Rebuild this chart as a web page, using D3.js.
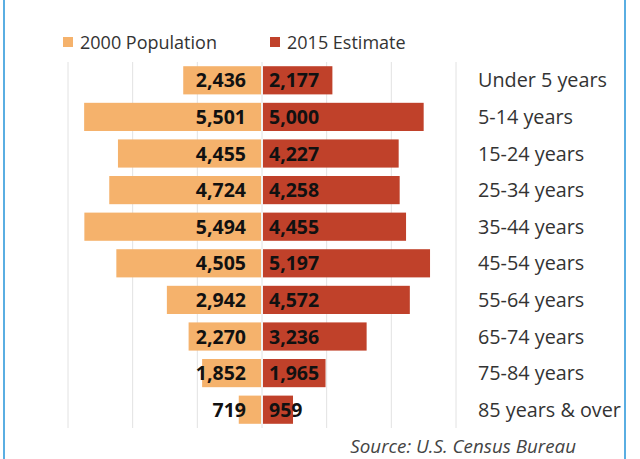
<!DOCTYPE html>
<html><head><meta charset="utf-8">
<script src="https://cdn.jsdelivr.net/npm/d3@7"></script>
<style>body{margin:0;background:#fff;}svg{display:block;}</style>
</head><body>
<script>
const categories = ["Under 5 years","5-14 years","15-24 years","25-34 years","35-44 years","45-54 years","55-64 years","65-74 years","75-84 years","85 years & over"];
const pop2000 = [2436,5501,4455,4724,5494,4505,2942,2270,1852,719];
const est2015 = [2177,5000,4227,4258,4455,5197,4572,3236,1965,959];
const seriesNames = ["2000 Population","2015 Estimate"];
const gridTicks = [-6000,-4000,-2000,0,2000,4000,6000];

const W=640,H=459;
const colors = ["#f5b26c","#c0412a"];
const svg = d3.select("body").append("svg").attr("width",W).attr("height",H);
const font = "'Open Sans', sans-serif";

const x = d3.scaleLinear().domain([-6000,6000]).range([68,456]);
const y = d3.scaleBand().domain(categories).range([62,428]).paddingInner(0.23).paddingOuter(0.115);

// border lines
svg.append("line").attr("x1",4).attr("x2",4).attr("y1",0).attr("y2",H).attr("stroke","#5aaee2").attr("stroke-width",2);
svg.append("line").attr("x1",625).attr("x2",625).attr("y1",0).attr("y2",H).attr("stroke","#5aaee2").attr("stroke-width",2);

// gridlines
svg.append("g").selectAll("line").data(gridTicks).join("line")
  .attr("x1",d=>x(d)).attr("x2",d=>x(d)).attr("y1",62).attr("y2",428)
  .attr("stroke","#e2e2e2").attr("stroke-width",1);

const data = categories.map((c,i)=>({c, a:pop2000[i], b:est2015[i]}));

// bars
svg.append("g").selectAll("rect").data(data).join("rect")
  .attr("x",d=>x(-d.a)).attr("width",d=>x(0)-1-x(-d.a))
  .attr("y",d=>y(d.c)).attr("height",y.bandwidth()).attr("fill",colors[0]);
svg.append("g").selectAll("rect").data(data).join("rect")
  .attr("x",x(0)+1).attr("width",d=>x(d.b)-x(0)-1)
  .attr("y",d=>y(d.c)).attr("height",y.bandwidth()).attr("fill",colors[1]);

const fmt = d3.format(",");
// value labels
svg.append("g").selectAll("text").data(data).join("text")
  .attr("x",x(0)-16).attr("y",d=>y(d.c)+y.bandwidth()/2+7)
  .attr("text-anchor","end").attr("font-family",font).attr("font-weight",700)
  .attr("font-size",19.5).attr("fill","#111").text(d=>fmt(d.a));
svg.append("g").selectAll("text").data(data).join("text")
  .attr("x",x(0)+7).attr("y",d=>y(d.c)+y.bandwidth()/2+7)
  .attr("text-anchor","start").attr("font-family",font).attr("font-weight",700)
  .attr("font-size",19.5).attr("fill","#111").text(d=>fmt(d.b));

// category labels
svg.append("g").selectAll("text").data(categories).join("text")
  .attr("x",478).attr("y",d=>y(d)+y.bandwidth()/2+7)
  .attr("font-family",font).attr("font-size",19.8).attr("fill","#333").text(d=>d);

// legend
const legX=[63,270];
seriesNames.forEach((s,i)=>{
  svg.append("rect").attr("x",legX[i]).attr("y",37).attr("width",10).attr("height",10).attr("fill",colors[i]);
  svg.append("text").attr("x",legX[i]+17).attr("y",49).attr("font-family",font)
    .attr("font-size",18).attr("fill","#333").text(s);
});

// source
svg.append("text").attr("x",576).attr("y",453).attr("text-anchor","end")
  .attr("font-family",font).attr("font-style","italic").attr("font-size",18.8)
  .attr("fill","#444").text("Source: U.S. Census Bureau");
</script>
</body></html>
